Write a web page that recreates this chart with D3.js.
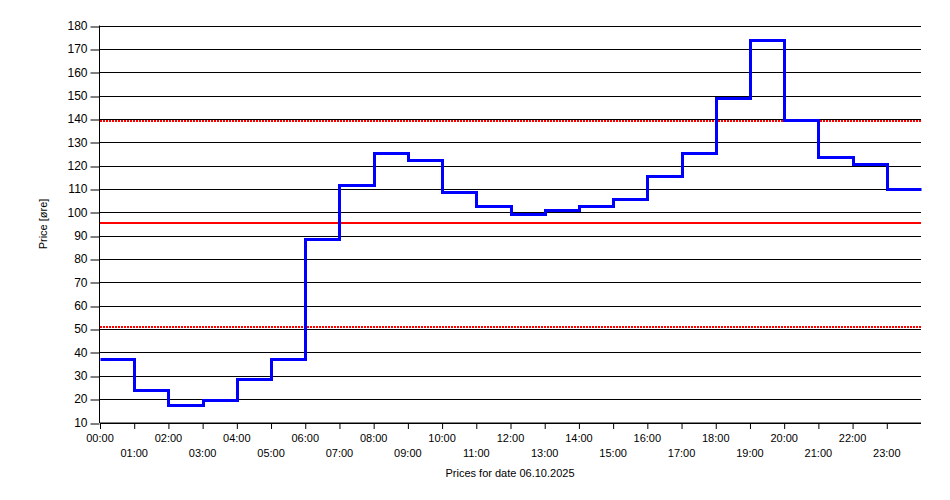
<!DOCTYPE html>
<html><head><meta charset="utf-8">
<script src="https://cdn.jsdelivr.net/npm/d3@7"></script>
<style>body{margin:0;background:#fff}svg{display:block}text{font-family:"Liberation Sans",Arial,sans-serif;fill:#000}</style>
</head><body><svg id="c" width="950" height="500"></svg>
<script>
const hours = ["00:00","01:00","02:00","03:00","04:00","05:00","06:00","07:00","08:00","09:00","10:00","11:00","12:00","13:00","14:00","15:00","16:00","17:00","18:00","19:00","20:00","21:00","22:00","23:00"];
const prices = [37.2,24.0,17.5,19.6,28.6,37.3,88.5,111.5,125.2,122.5,108.5,102.6,99.2,101.0,102.7,105.7,115.6,125.4,148.8,173.8,139.6,123.9,120.7,110.0];
const yTicks = [10,20,30,40,50,60,70,80,90,100,110,120,130,140,150,160,170,180];
const avgLine = [95.4];
const bandLines = [51.4,139.5];
const xTitle = "Prices for date 06.10.2025";
const yTitle = "Price [øre]";

const svg = d3.select("#c");
const L=100,R=921,T=25.5,B=422.5;
const x = d3.scaleLinear().domain([0,24]).range([L,R]);
const y = d3.scaleLinear().domain([10,180]).range([B,T]);

// grid
svg.append("g").selectAll("line").data(yTicks).join("line")
 .attr("x1",L).attr("x2",R).attr("y1",d=>Math.round(y(d))+0.5).attr("y2",d=>Math.round(y(d))+0.5)
 .attr("stroke","#000").attr("stroke-width",1);

// y axis
const ya = svg.append("g").attr("transform",`translate(${L-0.5},0)`)
 .call(d3.axisLeft(y).tickValues(yTicks).tickSize(9).tickPadding(3).tickFormat(d3.format("d")));
ya.select(".domain").remove();
ya.selectAll(".tick line").attr("stroke","#000").attr("transform",d=>`translate(0,${Math.round(y(d))+0.5-y(d)})`);
ya.selectAll("text").attr("font-size","12px").attr("font-family","Liberation Sans, Arial, sans-serif").attr("fill","#000");
svg.append("line").attr("x1",L-0.5).attr("x2",L-0.5).attr("y1",T).attr("y2",B+0.5).attr("stroke","#000");

// x axis
const xa = svg.append("g").attr("transform",`translate(0,${B+0.5})`)
 .call(d3.axisBottom(x).tickValues(d3.range(0,24)).tickSize(6).tickFormat(""));
xa.select(".domain").attr("stroke","#000").attr("d",`M${L},0H${R}`);
xa.selectAll(".tick line").attr("stroke","#000");
svg.append("g").selectAll("text").data(hours).join("text")
 .attr("x",(d,i)=>x(i)).attr("y",(d,i)=>i%2===0?442:457)
 .attr("text-anchor","middle").attr("font-size","11px").text(d=>d);

// reference lines
svg.append("g").selectAll("line").data(bandLines).join("line")
 .attr("x1",L).attr("x2",R).attr("y1",d=>Math.round(y(d))+1).attr("y2",d=>Math.round(y(d))+1)
 .attr("stroke","#ff0000").attr("stroke-width",2).attr("stroke-dasharray","2,1");
svg.append("g").selectAll("line").data(avgLine).join("line")
 .attr("x1",L).attr("x2",R).attr("y1",d=>Math.round(y(d))).attr("y2",d=>Math.round(y(d)))
 .attr("stroke","#ff0000").attr("stroke-width",2);

// price step line
const pts = prices.map((v,i)=>[i,v]).concat([[24,prices[prices.length-1]]]);
svg.append("path").datum(pts)
 .attr("d",d3.line().x(d=>Math.round(x(d[0]))+0.5).y(d=>Math.round(y(d[1]))+0.5).curve(d3.curveStepAfter))
 .attr("fill","none").attr("stroke","#0000ff").attr("stroke-width",3);

// titles
svg.append("text").attr("x",510).attr("y",477).attr("text-anchor","middle").attr("font-size","11px").text(xTitle);
svg.append("text").attr("transform","translate(47,224) rotate(-90)").attr("text-anchor","middle").attr("font-size","11px").text(yTitle);
</script></body></html>
